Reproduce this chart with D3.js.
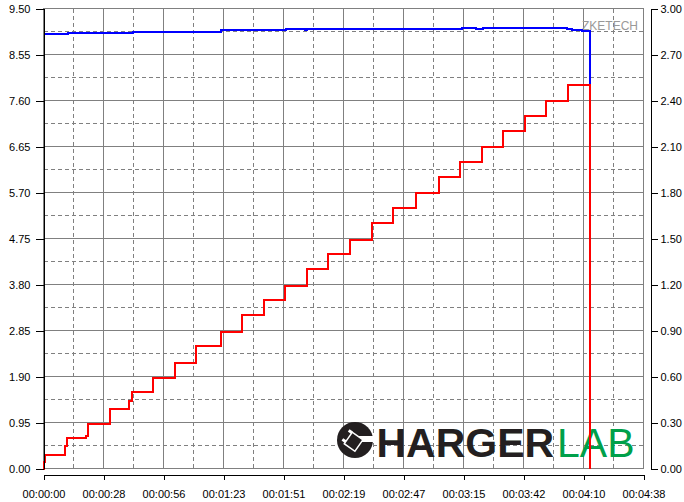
<!DOCTYPE html>
<html><head><meta charset="utf-8">
<script src="https://cdn.jsdelivr.net/npm/d3@7"></script>
<style>
html,body{margin:0;padding:0;background:#fff;}
svg{display:block;}
text{font-family:"Liberation Sans",Arial,sans-serif;}
</style></head>
<body>
<script>
// ---- data ----
const timeTickSeconds = [0, 27.8, 55.6, 83.4, 111.2, 139.0, 166.8, 194.6, 222.4, 250.2, 278.0];
const timeTickLabels = ["00:00:00","00:00:28","00:00:56","00:01:23","00:01:51","00:02:19","00:02:47","00:03:15","00:03:42","00:04:10","00:04:38"];
const voltTicks = [0, 0.95, 1.90, 2.85, 3.80, 4.75, 5.70, 6.65, 7.60, 8.55, 9.50];
const currTicks = [0, 0.30, 0.60, 0.90, 1.20, 1.50, 1.80, 2.10, 2.40, 2.70, 3.00];

// voltage (V, left axis) - blue
const voltTimes  = [0, 11.5, 41.6, 82.2, 112.4, 121.2, 122.1, 162.5, 193.8, 200.4, 203.6, 242.4, 244.7, 249.4, 253.2];
const voltValues = [8.98, 9.00, 9.025, 9.05, 9.07, 9.05, 9.07, 9.083, 9.10, 9.083, 9.10, 9.083, 9.06, 9.04, 0];

// current (A, right axis) - red
const currTimes  = [0, 0.2, 0.6, 10.1, 10.75, 19.7, 20.76, 30.8, 39.75, 40.9, 50.9, 60.8, 70.5, 82.1, 92.0, 102.2, 111.8, 122.1, 131.8, 142.0, 152.2, 161.9, 172.7, 183.2, 193.0, 203.2, 213.0, 223.0, 233.0, 243.0, 253.2];
const currValues = [0, 0.04, 0.09, 0.145, 0.198, 0.21, 0.293, 0.391, 0.443, 0.496, 0.593, 0.691, 0.796, 0.893, 0.998, 1.098, 1.193, 1.298, 1.398, 1.493, 1.598, 1.698, 1.80, 1.898, 1.998, 2.098, 2.198, 2.298, 2.40, 2.498, 0];

// ---- layout ----
const W = 684, H = 502;
const L = 43.5, R = 643.5, T = 8.5, B = 468.5;

const svg = d3.select("body").append("svg").attr("width", W).attr("height", H);

const x = d3.scaleLinear().domain([0, 278]).range([L, R]);
const yL = d3.scaleLinear().domain([0, 9.5]).range([B, T]);
const yR = d3.scaleLinear().domain([0, 3.0]).range([B, T]);

const gridColor = "#808080";
const grid = svg.append("g").attr("shape-rendering", "crispEdges");

// dashed mid lines
const midX = timeTickSeconds.slice(1).map((t, i) => (t + timeTickSeconds[i]) / 2);
const midY = voltTicks.slice(1).map((v, i) => (v + voltTicks[i]) / 2);
grid.selectAll(".vd").data(midX).join("line")
  .attr("x1", d => x(d)).attr("x2", d => x(d)).attr("y1", T).attr("y2", B)
  .attr("stroke", gridColor).attr("stroke-dasharray", "4,3");
grid.selectAll(".hd").data(midY).join("line")
  .attr("x1", L).attr("x2", R).attr("y1", d => yL(d)).attr("y2", d => yL(d))
  .attr("stroke", gridColor).attr("stroke-dasharray", "4,3");
// solid lines
grid.selectAll(".vs").data(timeTickSeconds).join("line")
  .attr("x1", d => x(d)).attr("x2", d => x(d)).attr("y1", T).attr("y2", B)
  .attr("stroke", gridColor);
grid.selectAll(".hs").data(voltTicks).join("line")
  .attr("x1", L).attr("x2", R).attr("y1", d => yL(d)).attr("y2", d => yL(d))
  .attr("stroke", gridColor);

// watermark text
svg.append("text").attr("x", 638).attr("y", 29.5).attr("text-anchor", "end")
  .attr("font-size", "12px").attr("fill", "#999999").text("ZKETECH");

// logo
const logo = svg.append("g");
const cx = 355, cy = 440;
logo.append("circle").attr("cx", cx).attr("cy", cy).attr("r", 18).attr("fill", "#231f20");
logo.append("rect").attr("x", cx + 2).attr("y", cy - 4).attr("width", 18).attr("height", 6).attr("fill", "#fff");
logo.append("rect").attr("x", cx - 8).attr("y", cy - 5).attr("width", 13).attr("height", 14)
  .attr("fill", "#231f20").attr("stroke", "#fff").attr("stroke-width", 1.5)
  .attr("transform", `rotate(35 ${cx - 1} ${cy + 2})`);
logo.append("rect").attr("x", cx - 12).attr("y", cy - 6).attr("width", 4).attr("height", 3)
  .attr("fill", "#fff").attr("transform", `rotate(35 ${cx - 1} ${cy + 2})`);
logo.append("rect").attr("x", cx - 12).attr("y", cy + 5).attr("width", 4).attr("height", 3)
  .attr("fill", "#fff").attr("transform", `rotate(35 ${cx - 1} ${cy + 2})`);
logo.append("text").attr("x", 376.5).attr("y", 456.5).attr("font-size", "41px")
  .attr("font-weight", "bold").attr("fill", "#231f20").text("HARGER");
logo.append("text").attr("x", 557).attr("y", 456.5).attr("font-size", "41px")
  .attr("fill", "#00a04a").text("LAB");

// data lines
const voltLine = d3.line().x((d, i) => x(voltTimes[i])).y(d => yL(d)).curve(d3.curveStepAfter);
const currLine = d3.line().x((d, i) => x(currTimes[i])).y(d => yR(d)).curve(d3.curveStepAfter);
svg.append("path").attr("d", voltLine(voltValues)).attr("fill", "none")
  .attr("stroke", "#0000ff").attr("stroke-width", 2).attr("shape-rendering", "crispEdges");
svg.append("path").attr("d", currLine(currValues)).attr("fill", "none")
  .attr("stroke", "#ff0000").attr("stroke-width", 2).attr("shape-rendering", "crispEdges");

// frame
grid.append("rect").attr("x", L).attr("y", T).attr("width", R - L).attr("height", B - T)
  .attr("fill", "none").attr("stroke", gridColor);

// axes
function styleAxis(g) {
  g.attr("shape-rendering", "crispEdges");
  g.selectAll("path,line").attr("stroke", "#000");
  g.selectAll("text").attr("font-size", "11px").attr("fill", "#000")
    .attr("font-family", '"Liberation Sans",Arial,sans-serif');
}
svg.append("g").attr("transform", `translate(${L},0)`)
  .call(d3.axisLeft(yL).tickValues(voltTicks).tickFormat(d3.format(".2f"))
    .tickSize(8).tickSizeOuter(0).tickPadding(5))
  .call(styleAxis);
svg.append("g").attr("transform", `translate(650.5,0)`)
  .call(d3.axisRight(yR).tickValues(currTicks).tickFormat(d3.format(".2f"))
    .tickSize(7).tickSizeOuter(0).tickPadding(3))
  .call(styleAxis);
svg.append("g").attr("transform", `translate(0,474.5)`)
  .call(d3.axisBottom(x).tickValues(timeTickSeconds)
    .tickFormat((d, i) => timeTickLabels[i]).tickSize(5).tickSizeOuter(0).tickPadding(11))
  .call(styleAxis);
</script>
</body></html>
